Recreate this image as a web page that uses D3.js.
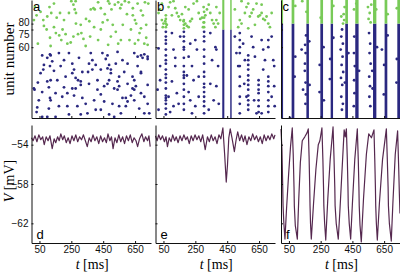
<!DOCTYPE html>
<html lang="en">
<head>
<meta charset="UTF-8">
<title>raster + membrane potential</title>
<script src="https://cdnjs.cloudflare.com/ajax/libs/d3/7.8.5/d3.min.js"></script>
<style>
  body { margin: 0; background: #fff; }
  svg { display: block; }
  .tick text { font-family: "Liberation Sans", Arial, sans-serif; font-size: 10px; fill: #111; }
  .domain, .tick line { stroke: #111; stroke-width: 1; }
</style>
</head>
<body>
<script>
// ticks
const tTicks = [50, 250, 450, 650];
const unitTicks = [60, 75, 80];
const vTicks = [-54, -58, -62];
// units at or above this number are drawn green (per column a, b, c)
const excBound = [60, 75, 80];

// panel a: scattered spikes [t ms, unit]
const spikesA = [
  [21,94],[32,87],[15,83],[57,90],[74,83],[78,78],[95,75],[113,94],[124,89],[116,68],[120,61],[141,97],[158,85],[179,89],[195,75],[214,71],[235,89],[250,99],[263,96],[271,92],[279,89],[225,63],[246,64],[263,69],[279,80],[292,71],[313,72],[342,84],[363,82],[372,92],[389,93],[397,92],[418,98],[435,93],[447,81],[460,88],[481,99],[489,97],[502,92],[523,96],[510,79],[544,98],[557,93],[565,96],[573,79],[586,99],[611,98],[599,88],[615,66],[636,93],[636,87],[649,83],[649,63],[657,80],[670,66],[678,72],[687,91],[699,87],[712,98],[720,79],[733,97],[729,62],[708,63],[720,68],[481,62],[544,63],[418,66],[368,69],[326,67],[187,66],[174,70],[153,72],[40,63],[99,86],[204,83],[309,79],[435,75],[529,73],[624,75],[687,76],[340,61],[498,69],[561,66],[666,97],[277,99],[477,83],[393,77],[141,77],
  [116,54],[99,51],[120,53],[78,45],[74,41],[116,44],[141,40],[120,32],[99,31],[109,26],[15,25],[19,24],[40,30],[67,22],[116,17],[120,15],[109,8],[36,9],[32,5],[67,1],[99,1],[151,1],[204,26],[193,18],[172,10],[225,10],[235,55],[256,46],[267,41],[256,38],[277,34],[277,25],[309,28],[309,31],[292,32],[319,17],[267,19],[288,10],[309,3],[340,12],[372,55],[382,49],[361,46],[382,41],[355,39],[403,45],[435,41],[414,32],[414,24],[435,20],[445,55],[466,50],[477,53],[487,45],[477,42],[498,41],[498,38],[487,32],[477,29],[456,14],[487,3],[508,12],[540,56],[550,35],[540,31],[550,27],[540,24],[519,25],[519,1],[561,4],[571,17],[592,17],[603,14],[592,10],[550,10],[645,55],[666,52],[687,53],[697,51],[708,54],[729,52],[729,50],[666,44],[687,39],[687,38],[645,32],[655,27],[634,25],[645,24],[687,21],[624,19],[645,15],[676,8],[729,12],[708,4],[739,4],[214,35],[183,44],[204,49],[162,32],[151,21],[361,29],[393,15],[435,7],[235,3],[351,4],[603,46],[582,39],[529,46],[130,48],[57,38],[46,15],[172,55],[298,51],[403,7],[634,35],[571,49],[456,27],[256,25],[319,39],[729,28],[708,18],[603,29],[225,21],[67,53]
];

// panel b: scattered spikes
const spikesB = [
  [19,89],[29,92],[40,83],[50,80],[61,82],[46,77],[71,79],[82,94],[92,98],[113,99],[103,87],[134,89],[145,86],[155,83],[166,88],[176,82],[187,80],[197,78],[208,77],[218,82],[229,84],[187,94],[239,97],[260,99],[271,89],[281,84],[292,85],[302,81],[298,77],[313,87],[323,92],[334,96],[355,83],[365,80],[376,77],[40,97],[124,93],[208,92],[302,94],[344,89],
  [382,83],[393,80],[403,89],[382,94],[498,92],[519,77],[529,83],[540,80],[561,89],[571,94],[582,97],[592,86],[603,89],[613,92],[624,79],[634,97],[645,86],[655,87],[666,89],[676,84],[687,83],[697,86],[708,80],[718,77],[729,89],[582,76],[540,99],[666,96],
  [19,59],[29,44],[13,24],[19,7],[103,72],[113,58],[124,44],[103,31],[134,21],[113,10],[92,5],[155,69],[218,63],[208,52],[229,44],[239,32],[208,22],[218,15],[250,10],[229,4],[260,58],[271,35],[124,51],[145,12],[82,18],[29,32],[271,18],[197,36],[250,66],[344,72],[355,49],[344,29],[365,15],[334,7],[376,60],
  [382,58],[393,44],[382,27],[397,12],[498,69],[508,55],[519,44],[550,63],[561,49],[557,29],[571,18],[603,69],[613,60],[624,52],[619,15],[634,4],[666,66],[676,58],[687,49],[676,41],[666,4],[729,69],[739,49],[745,44],[745,27],[729,18],[748,10]
];
// panel b: near-synchronous columns [t ms, units firing]
const columnsB = [
  [65, [87,84,80,77,73,69,66,63,58,53,49,46,41,37,34,30,25,19,17,15,12,8,3]],
  [178, [83,79,76,73,69,65,60,58,51,44,39,36,34,29,24,18,12,7]],
  [305, [90,85,81,77,73,69,65,58,52,46,39,35,29,26,22,18,14,10,4]],
  [529, [72,66,60,55,44,35,27,18,12,4]],
  [582, [53,49,45,41,36,32,28,24,19,15,11,7]],
  [647, [32,28,24,21,15,10,5]],
  [708, [66,60,35,31,27,22,15,10,5]]
];
// panel b: fully synchronous bursts [t start, t end]
const bandsB = [[419, 432], [469, 478]];

// panel c: bursts and stray spikes
const bandsC = [[0,13],[67,84],[160,176],[248,265],[313,328],[405,422],[468,489],[580,601],[653,670],[733,750]];
const spikesC = [
  [130,58],[139,24],[155,55],[151,46],[152,62],[150,40],[155,30],[157,20],[154,12],[158,70],[57,0],[90,52],[86,35],[178,65],[180,28],[244,45],[243,22],[268,60],[270,15],[310,50],[308,33],[330,68],
  [385,75],[380,69],[390,63],[376,58],[388,52],[382,45],[392,39],[378,34],[386,28],[380,18],[390,12],[384,7],
  [555,72],[562,63],[558,55],[565,46],[556,35],[561,27],[557,18],[563,10],[636,58],[462,69],[460,55],[465,44],[461,32],[463,21],[459,10],[575,40],[577,25],[605,60],[650,45],[648,20],[672,70],[730,50],[728,30],[492,40],[425,55],[403,30],
  [134,99],[380,86],[391,80],[548,94],[559,89],[569,96],[401,94],[460,92],[395,88],[398,83],[552,84],[565,81],[90,95],[160,90],[250,85],[330,95],[475,97],[600,92],[672,88],[730,93]
];

// membrane potential traces [t ms, V mV]
const traceD = [
  [0,-53.3],[10,-53.6],[22,-53.1],[34,-53.7],[46,-53.0],[58,-53.5],[70,-53.2],[80,-54.0],[92,-53.2],[104,-53.6],[116,-53.1],[130,-54.4],[142,-53.4],[152,-53.8],[164,-53.2],[174,-53.6],[184,-52.9],[196,-53.5],[206,-53.1],[218,-53.8],[230,-53.3],[242,-53.9],[254,-53.1],[266,-53.6],[278,-53.0],[290,-53.7],[302,-53.2],[314,-53.5],[326,-53.0],[338,-53.6],[350,-54.2],[362,-53.3],[374,-53.7],[386,-53.0],[398,-53.6],[410,-53.2],[422,-53.9],[434,-53.1],[446,-53.7],[458,-53.3],[470,-53.8],[480,-52.9],[492,-53.6],[502,-53.2],[512,-54.4],[524,-53.3],[536,-53.8],[548,-53.0],[560,-53.7],[572,-53.2],[584,-53.9],[596,-53.1],[608,-53.6],[620,-53.0],[632,-53.8],[644,-53.3],[656,-53.6],[666,-54.2],[678,-53.4],[693,-52.9],[705,-53.7],[716,-53.2],[728,-53.6],[737,-53.1],[745,-54.2]
];
const traceE = [
  [0,-53.1],[10,-53.6],[20,-53.0],[32,-53.5],[44,-53.1],[56,-53.7],[66,-53.2],[75,-54.2],[86,-53.3],[98,-53.7],[108,-53.0],[120,-53.6],[130,-53.2],[142,-53.8],[154,-53.1],[166,-53.6],[178,-53.0],[190,-53.5],[200,-53.2],[212,-53.9],[224,-53.1],[236,-53.6],[248,-53.0],[260,-53.5],[272,-53.1],[284,-53.7],[296,-53.0],[312,-54.5],[326,-53.2],[338,-53.7],[350,-53.0],[362,-53.6],[374,-53.2],[386,-53.9],[398,-53.0],[410,-53.4],[423,-52.3],[434,-55.0],[444,-57.8],[452,-56.0],[460,-53.3],[469,-52.4],[480,-53.3],[495,-54.7],[506,-53.5],[516,-52.7],[528,-53.6],[540,-53.0],[552,-53.7],[562,-53.1],[574,-54.0],[586,-53.2],[598,-53.6],[610,-52.9],[622,-53.5],[634,-53.1],[646,-53.7],[658,-53.2],[670,-53.9],[682,-53.0],[694,-53.6],[706,-53.1],[718,-53.5],[730,-52.9],[742,-53.4],[750,-53.0]
];
const traceF = [
  [0,-52.4],[6,-54.5],[11,-58.4],[13,-60.2],[18,-62.0],[25,-63.6],[35,-60.5],[48,-57.0],[60,-54.2],[71,-52.3],[77,-55.0],[82,-58.3],[84,-60.2],[90,-62.2],[103,-63.6],[112,-59.5],[122,-55.8],[134,-53.6],[150,-53.2],[164,-52.8],[172,-52.4],[177,-55.2],[181,-58.3],[183,-60.2],[186,-62.0],[191,-63.6],[205,-60.0],[220,-56.5],[235,-54.0],[245,-53.6],[258,-52.3],[264,-55.5],[268,-58.3],[270,-60.2],[275,-62.0],[282,-63.7],[295,-59.5],[310,-55.5],[328,-52.2],[334,-55.3],[339,-58.3],[341,-60.2],[348,-62.0],[361,-63.6],[372,-60.5],[385,-56.5],[398,-52.5],[405,-53.2],[412,-52.4],[418,-55.5],[422,-58.3],[424,-60.2],[430,-62.0],[439,-63.6],[450,-60.0],[465,-55.5],[481,-52.4],[487,-55.5],[491,-58.3],[493,-60.2],[498,-62.2],[506,-63.9],[520,-59.5],[538,-55.0],[553,-52.9],[570,-53.3],[586,-52.5],[591,-55.5],[595,-58.3],[597,-60.2],[601,-62.0],[607,-63.7],[620,-60.0],[640,-55.5],[664,-52.4],[670,-55.5],[675,-58.3],[677,-60.2],[683,-62.0],[695,-63.8],[705,-60.0],[720,-55.0],[735,-52.6],[742,-56.5],[746,-59.0],[750,-61.0]
];

const width = 400, height = 272;
const blue = '#2a2880', green = '#78ca58', purple = '#55284f';

const svg = d3.select('body').append('svg')
  .attr('width', width)
  .attr('height', height);

// column geometry
const cols = [[31.5, 151], [155.5, 275], [281, 400]];
const yU = d3.scaleLinear().domain([0, 100]).range([118, 0]);
const yV = d3.scaleLinear().domain([-64, -52]).range([243, 125]);

svg.append('clipPath').attr('id', 'clipTop')
  .append('rect').attr('x', 0).attr('y', 0).attr('width', width).attr('height', 118);

const rasters = [
  { spikes: spikesA, columns: [], bands: [] },
  { spikes: spikesB, columns: columnsB, bands: bandsB },
  { spikes: spikesC, columns: [], bands: bandsC }
];
const traces = [traceD, traceE, traceF];
const letters = [['a', 'b', 'c'], ['d', 'e', 'f']];

cols.forEach((c, i) => {
  const x = d3.scaleLinear().domain([0, 750]).range(c);
  const bound = excBound[i];
  const col = u => (u >= bound ? green : blue);
  const r = rasters[i];

  // ---- raster ----
  const g = svg.append('g').attr('clip-path', 'url(#clipTop)');

  // synchronous bursts: blue below the boundary, green above
  r.bands.forEach(b => {
    g.append('rect').attr('x', x(b[0])).attr('width', x(b[1]) - x(b[0]))
      .attr('y', yU(bound)).attr('height', yU(0) - yU(bound)).attr('fill', blue);
    g.append('rect').attr('x', x(b[0])).attr('width', x(b[1]) - x(b[0]))
      .attr('y', yU(100)).attr('height', yU(bound) - yU(100)).attr('fill', green);
  });

  const pts = r.spikes.concat(...r.columns.map(cl => cl[1].map(u => [cl[0], u])));
  g.selectAll('circle.sp').data(pts).enter().append('circle')
    .attr('class', 'sp')
    .attr('cx', d => x(d[0]))
    .attr('cy', d => yU(d[1]))
    .attr('r', 1.4)
    .attr('fill', d => col(d[1]));

  svg.append('g').attr('transform', 'translate(0,118)')
    .call(d3.axisBottom(x).tickValues(tTicks).tickSize(-2).tickSizeOuter(0).tickFormat(''));
  const la = svg.append('g').attr('transform', `translate(${c[0]},0)`)
    .call(d3.axisLeft(yU).tickValues(unitTicks).tickSize(-2).tickSizeOuter(0)
      .tickFormat(i === 0 ? d3.format('d') : ''));
  la.selectAll('.tick text').attr('x', -2)
    .attr('dy', d => (d === 75 ? '0.75em' : d === 80 ? '0.2em' : '0.32em'));

  svg.append('text').attr('x', c[0] + 1.5).attr('y', 10.5)
    .style('font-family', '"Liberation Sans", Arial, sans-serif').style('font-size', '13px')
    .text(letters[0][i]);

  // ---- voltage trace ----
  const line = d3.line().x(d => x(d[0])).y(d => yV(d[1]));
  svg.append('path').datum(traces[i])
    .attr('d', line)
    .attr('fill', 'none')
    .attr('stroke', purple)
    .attr('stroke-width', 1.2)
    .attr('stroke-linejoin', 'round');

  svg.append('g').attr('transform', 'translate(0,243)')
    .call(d3.axisBottom(x).tickValues(tTicks).tickSize(-2).tickSizeOuter(0).tickPadding(3));
  svg.append('g').attr('transform', `translate(${c[0]},0)`)
    .call(d3.axisLeft(yV).tickValues(vTicks).tickSize(-2).tickSizeOuter(0).tickPadding(3)
      .tickFormat(i === 0 ? d3.format('d') : ''));

  svg.append('text').attr('x', c[0] + 5).attr('y', 239)
    .style('font-family', '"Liberation Sans", Arial, sans-serif').style('font-size', '13px')
    .text(letters[1][i]);

  // x label
  const tl = svg.append('text')
    .attr('x', (c[0] + c[1]) / 2 + 1).attr('y', 269)
    .attr('text-anchor', 'middle')
    .style('font-family', '"Liberation Serif", "Times New Roman", serif').style('font-size', '14px');
  tl.append('tspan').style('font-style', 'italic').text('t');
  tl.append('tspan').text(' [ms]');
});

// y labels
svg.append('text')
  .attr('transform', 'translate(14,59) rotate(-90)')
  .attr('text-anchor', 'middle')
  .style('font-family', '"Liberation Serif", "Times New Roman", serif').style('font-size', '15px')
  .text('unit number');

const vl = svg.append('text')
  .attr('transform', 'translate(14,181) rotate(-90)')
  .attr('text-anchor', 'middle')
  .style('font-family', '"Liberation Serif", "Times New Roman", serif').style('font-size', '14px');
vl.append('tspan').style('font-style', 'italic').text('V');
vl.append('tspan').text(' [mV]');
</script>
</body>
</html>
